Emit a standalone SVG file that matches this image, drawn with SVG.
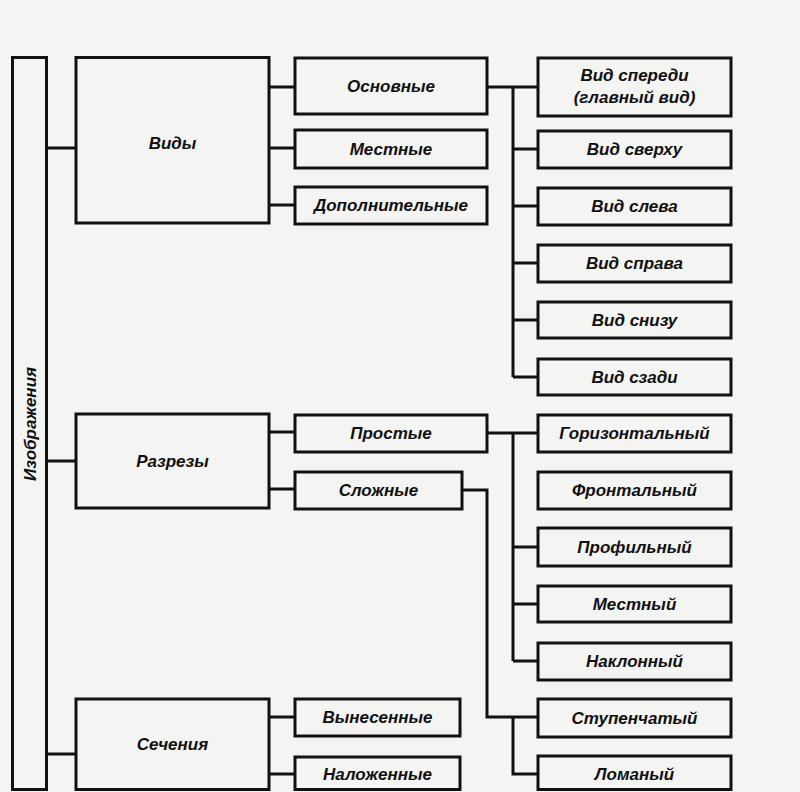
<svg xmlns="http://www.w3.org/2000/svg" width="800" height="792" viewBox="0 0 800 792">
  <style>
    .box { fill: none; stroke: #111; stroke-width: 3; }
    .wire { fill: none; stroke: #111; stroke-width: 3; stroke-linejoin: miter; }
    .lbl { font-family: "Liberation Sans", Arial, sans-serif; font-style: italic; font-weight: bold; font-size: 17px; fill: #111; text-anchor: middle; dominant-baseline: central; }
  </style>
  <rect x="0" y="0" width="800" height="792" fill="#f4f4f3"/>

  <!-- connectors -->
  <g id="connectors" class="wire">
    <!-- root to groups -->
    <path d="M47 148H76 M47 461H76 M47 754H76"/>
    <!-- Виды to kinds -->
    <path d="M269 87H295 M269 148H295 M269 205H295"/>
    <!-- Основные to the six views -->
    <path d="M487 87H538 M513 87V377 M513 149H538 M513 206H538 M513 263H538 M513 320H538 M513 377H538"/>
    <!-- Разрезы to kinds -->
    <path d="M269 432H295 M269 489H295"/>
    <!-- Простые -->
    <path d="M487 433H538 M513 433V661 M513 547H538 M513 604H538 M513 661H538"/>
    <!-- Сложные -->
    <path d="M462 490H487V717H538 M513 717V774H538"/>
    <!-- Сечения -->
    <path d="M269 717H295 M269 774H295"/>
  </g>

  <!-- root -->
  <g id="n-root">
    <rect class="box" x="12.5" y="57.5" width="34" height="732"/>
    <text class="lbl" transform="translate(30 424) rotate(-90)">Изображения</text>
  </g>

  <!-- level 1 -->
  <g id="n-vidy">
    <rect class="box" x="76" y="57.5" width="193" height="165.5"/>
    <text class="lbl" x="172.5" y="143">Виды</text>
  </g>
  <g id="n-razrezy">
    <rect class="box" x="76" y="414" width="193" height="94"/>
    <text class="lbl" x="172.5" y="461">Разрезы</text>
  </g>
  <g id="n-secheniya">
    <rect class="box" x="76" y="699" width="193" height="90.5"/>
    <text class="lbl" x="172.5" y="744">Сечения</text>
  </g>

  <!-- level 2 -->
  <g id="n-osnovnye">
    <rect class="box" x="295" y="58" width="192" height="56"/>
    <text class="lbl" x="391" y="86">Основные</text>
  </g>
  <g id="n-mestnye">
    <rect class="box" x="295" y="130" width="192" height="38"/>
    <text class="lbl" x="391" y="149">Местные</text>
  </g>
  <g id="n-dopolnitelnye">
    <rect class="box" x="295" y="187" width="192" height="37"/>
    <text class="lbl" x="391" y="205.5">Дополнительные</text>
  </g>
  <g id="n-prostye">
    <rect class="box" x="295" y="415" width="192" height="37"/>
    <text class="lbl" x="391" y="433.5">Простые</text>
  </g>
  <g id="n-slozhnye">
    <rect class="box" x="295" y="472" width="167" height="37"/>
    <text class="lbl" x="378.5" y="490.5">Сложные</text>
  </g>
  <g id="n-vynesennye">
    <rect class="box" x="295" y="699" width="165" height="37"/>
    <text class="lbl" x="377.5" y="717.5">Вынесенные</text>
  </g>
  <g id="n-nalozhennye">
    <rect class="box" x="295" y="757" width="165" height="32.5"/>
    <text class="lbl" x="377.5" y="774">Наложенные</text>
  </g>

  <!-- level 3 -->
  <g id="n-front">
    <rect class="box" x="538" y="58" width="193" height="58"/>
    <text class="lbl" x="634.5" y="75">Вид спереди</text>
    <text class="lbl" x="634.5" y="97">(главный вид)</text>
  </g>
  <g id="n-top">
    <rect class="box" x="538" y="131" width="193" height="37"/>
    <text class="lbl" x="634.5" y="149.5">Вид сверху</text>
  </g>
  <g id="n-left">
    <rect class="box" x="538" y="188" width="193" height="37"/>
    <text class="lbl" x="634.5" y="206.5">Вид слева</text>
  </g>
  <g id="n-right">
    <rect class="box" x="538" y="245" width="193" height="37"/>
    <text class="lbl" x="634.5" y="263.5">Вид справа</text>
  </g>
  <g id="n-bottom">
    <rect class="box" x="538" y="302" width="193" height="36"/>
    <text class="lbl" x="634.5" y="320">Вид снизу</text>
  </g>
  <g id="n-back">
    <rect class="box" x="538" y="359" width="193" height="36"/>
    <text class="lbl" x="634.5" y="377">Вид сзади</text>
  </g>
  <g id="n-horizontal">
    <rect class="box" x="538" y="415" width="193" height="37"/>
    <text class="lbl" x="634.5" y="433.5">Горизонтальный</text>
  </g>
  <g id="n-frontal">
    <rect class="box" x="538" y="472" width="193" height="37"/>
    <text class="lbl" x="634.5" y="490.5">Фронтальный</text>
  </g>
  <g id="n-profile">
    <rect class="box" x="538" y="528" width="193" height="38"/>
    <text class="lbl" x="634.5" y="547">Профильный</text>
  </g>
  <g id="n-local">
    <rect class="box" x="538" y="586" width="193" height="36"/>
    <text class="lbl" x="634.5" y="604">Местный</text>
  </g>
  <g id="n-inclined">
    <rect class="box" x="538" y="643" width="193" height="37"/>
    <text class="lbl" x="634.5" y="661.5">Наклонный</text>
  </g>
  <g id="n-stepped">
    <rect class="box" x="538" y="699" width="193" height="38"/>
    <text class="lbl" x="634.5" y="718">Ступенчатый</text>
  </g>
  <g id="n-broken">
    <rect class="box" x="538" y="756" width="193" height="33.5"/>
    <text class="lbl" x="634.5" y="774">Ломаный</text>
  </g>
</svg>
